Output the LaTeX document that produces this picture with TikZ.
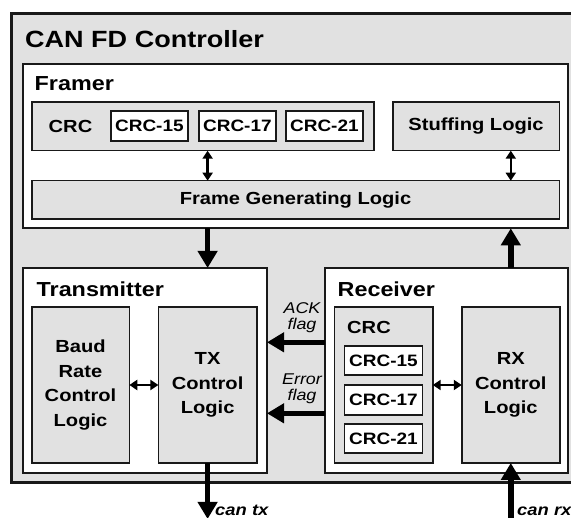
\documentclass[tikz,border=0pt]{standalone}
\usepackage{fontspec}
\setmainfont{Liberation Sans}[FakeStretch=1.15]
\usetikzlibrary{arrows.meta}
\definecolor{boxgray}{RGB}{225,225,225}
\definecolor{linec}{RGB}{25,25,25}
\tikzset{
  gbox/.style={draw=linec, line width=1.6pt, fill=boxgray, inner sep=0pt, outer sep=0pt},
  wbox/.style={draw=linec, line width=1.6pt, fill=white, inner sep=0pt, outer sep=0pt},
  lbl/.style={font=\fontsize{17.5}{24.7}\selectfont\bfseries, align=center, text=black},
  crclbl/.style={font=\fontsize{16.5}{20}\selectfont\bfseries, text=black},
  sect/.style={font=\fontsize{20.3}{24}\selectfont\bfseries, inner sep=0pt, anchor=base west},
  flaglbl/.style={font=\fontsize{15.6}{18}\selectfont\itshape, inner sep=0pt, anchor=base},
  canlbl/.style={font=\fontsize{16}{18}\selectfont\bfseries\itshape, inner sep=0pt, anchor=base west},
  bigarrow/.style={line width=5.5pt, draw=black, -{Triangle[length=17pt,width=19pt]}},
  dblarrow/.style={line width=2.5pt, draw=black, {Triangle[length=8pt,width=10pt]}-{Triangle[length=8pt,width=10pt]}},
}
\begin{document}
\begin{tikzpicture}[x=1pt,y=-1pt]
\useasboundingbox (0,0) rectangle (571,518);
% outer controller
\node[gbox, line width=3pt, minimum width=588.3pt, minimum height=468.8pt] (ctrl) at (305.85,248.1) {};
\node[font=\fontsize{23.5}{28}\selectfont\bfseries, inner sep=0pt, anchor=base west] (ctrltitle) at (25,47.3) {CAN FD Controller};
% framer
\node[wbox, line width=2pt, minimum width=545.6pt, minimum height=164.5pt] (framer) at (295.5,146.05) {};
\node[sect] (framertitle) at (34.5,90.7) {Framer};
\node[gbox, minimum width=342.3pt, minimum height=48.4pt] (crcF) at (202.85,126.5) {};
\node[lbl, inner sep=0pt, anchor=base] (crcFl) at (70.5,133) {CRC};
\node[wbox, crclbl, minimum width=77pt, minimum height=29.6pt] (crc15F) at (149.4,126) {CRC-15};
\node[wbox, crclbl, minimum width=77pt, minimum height=29.6pt] (crc17F) at (237.4,126) {CRC-17};
\node[wbox, crclbl, minimum width=77pt, minimum height=29.6pt] (crc21F) at (324.4,126) {CRC-21};
\node[gbox, lbl, minimum width=166.6pt, minimum height=48.4pt] (stuff) at (476,126.5) {Stuffing Logic};
\node[gbox, lbl, minimum width=527.6pt, minimum height=38.6pt] (fgl) at (295.5,200) {Frame Generating Logic};
% transmitter
\node[wbox, line width=2pt, minimum width=244.4pt, minimum height=205pt] (trans) at (144.8,370.5) {};
\node[sect] (transtitle) at (36.5,296.3) {Transmitter};
\node[gbox, lbl, minimum width=97.6pt, minimum height=156pt] (baud) at (80.5,385) {Baud\\Rate\\Control\\Logic};
\node[gbox, lbl, minimum width=98.4pt, minimum height=156pt] (tx) at (207.6,385) {TX\\Control\\Logic};
% receiver
\node[wbox, line width=2pt, minimum width=243.4pt, minimum height=205pt] (recv) at (446.6,370.5) {};
\node[sect] (recvtitle) at (337.5,296.3) {Receiver};
\node[gbox, minimum width=98.4pt, minimum height=156pt] (crcR) at (383.5,385) {};
\node[lbl, inner sep=0pt, anchor=base] (crcRl) at (369,333.3) {CRC};
\node[wbox, crclbl, minimum width=78pt, minimum height=29.5pt] (crc15R) at (383.5,360.5) {CRC-15};
\node[wbox, crclbl, minimum width=78pt, minimum height=29.5pt] (crc17R) at (383.5,400) {CRC-17};
\node[wbox, crclbl, minimum width=78pt, minimum height=29.5pt] (crc21R) at (383.5,438.5) {CRC-21};
\node[gbox, lbl, minimum width=98pt, minimum height=156pt] (rx) at (510.8,385) {RX\\Control\\Logic};
% labels
\node[flaglbl] (ackl) at (302,313.5) {ACK};
\node[flaglbl] (ackf) at (302,330) {flag};
\node[flaglbl] (errl) at (302,384.5) {Error};
\node[flaglbl] (errf) at (302,401) {flag};
\node[canlbl] (cantxl) at (215,515.5) {can tx};
\node[canlbl] (canrxl) at (517,515.5) {can rx};
% coordinates
\coordinate (ackpt) at (300,342.3);
\coordinate (errpt) at (300,413.3);
\coordinate (bottomline) at (0,519);
% connectors
\draw[dblarrow] (crcF.south -| tx.center) -- (fgl.north -| tx.center);
\draw[dblarrow] (stuff.south -| rx.center) -- (fgl.north -| rx.center);
\draw[bigarrow] (framer.south -| tx.center) -- (trans.north -| tx.center);
\draw[bigarrow] (recv.north -| rx.center) -- (framer.south -| rx.center);
\draw[dblarrow] (baud.east) -- (tx.west);
\draw[dblarrow] (crcR.east) -- (rx.west);
\draw[bigarrow] (recv.west |- ackpt) -- (trans.east |- ackpt);
\draw[bigarrow] (recv.west |- errpt) -- (trans.east |- errpt);
\draw[bigarrow] (tx.south) -- (bottomline -| tx.south);
\draw[bigarrow] (bottomline -| rx.south) -- (rx.south);
\end{tikzpicture}
\end{document}
